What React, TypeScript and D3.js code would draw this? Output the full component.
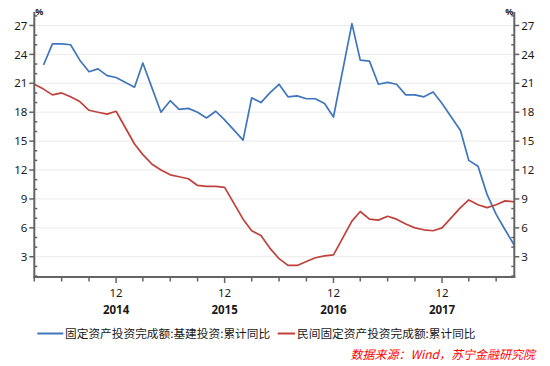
import React from "react";
import * as d3 from "d3";

// monthly observations (Chinese cumulative data: January merged into Jan-Feb)
const months: string[] = [
  "2014-03","2014-04","2014-05","2014-06","2014-07","2014-08","2014-09","2014-10","2014-11","2014-12",
  "2015-02","2015-03","2015-04","2015-05","2015-06","2015-07","2015-08","2015-09","2015-10","2015-11","2015-12",
  "2016-02","2016-03","2016-04","2016-05","2016-06","2016-07","2016-08","2016-09","2016-10","2016-11","2016-12",
  "2017-02","2017-03","2017-04","2017-05","2017-06","2017-07","2017-08","2017-09","2017-10","2017-11","2017-12",
  "2018-02","2018-03","2018-04","2018-05","2018-06","2018-07","2018-08",
];

const infraValues: (number | null)[] = [
  null, 22.9, 25.1, 25.1, 25.0, 23.4, 22.2, 22.5, 21.8, 21.6,
  20.6, 23.1, 20.5, 18.0, 19.2, 18.3, 18.4, 18.0, 17.4, 18.1, 17.2,
  15.1, 19.5, 19.0, 20.0, 20.9, 19.6, 19.7, 19.4, 19.4, 18.9, 17.5,
  27.2, 23.4, 23.3, 20.9, 21.1, 20.9, 19.8, 19.8, 19.6, 20.1, 18.9,
  16.1, 13.0, 12.4, 9.5, 7.4, 5.8, 4.2,
];

const privateValues: (number | null)[] = [
  20.9, 20.4, 19.8, 20.0, 19.6, 19.1, 18.2, 18.0, 17.8, 18.1,
  14.7, 13.6, 12.6, 12.0, 11.5, 11.3, 11.1, 10.4, 10.3, 10.3, 10.2,
  6.9, 5.7, 5.2, 3.9, 2.8, 2.1, 2.1, 2.5, 2.9, 3.1, 3.2,
  6.7, 7.7, 6.9, 6.8, 7.2, 6.9, 6.4, 6.0, 5.8, 5.7, 6.0,
  8.1, 8.9, 8.4, 8.1, 8.4, 8.8, 8.7,
];

const seriesNames: string[] = [
  "固定资产投资完成额:基建投资:累计同比",
  "民间固定资产投资完成额:累计同比",
];
const seriesColors: string[] = ["#3f76bc", "#c0413b"];

const yMajorTicks: number[] = [3, 6, 9, 12, 15, 18, 21, 24, 27];
const yMinorTicks: number[] = [1, 2, 4, 5, 7, 8, 10, 11, 13, 14, 16, 17, 19, 20, 22, 23, 25, 26, 28];
const xStart = "2014-03";
const xEnd = "2018-08";
const sourceText = "数据来源：Wind，苏宁金融研究院";
const unitLabel = "%";

const W = 550;
const H = 366;
const L = 34.3;
const R = 514.3;
const T = 12;
const B = 277;

const parse = (s: string) => {
  const [y, m] = s.split("-").map(Number);
  return new Date(Date.UTC(y, m - 1, 1));
};

export default function App() {
  const x = d3.scaleUtc().domain([parse(xStart), parse(xEnd)]).range([L, R]);
  const y = d3.scaleLinear().domain([0.9, 28.4]).range([B, T]);

  const dates = months.map(parse);
  const line = d3
    .line<number | null>()
    .defined((d) => d != null)
    .x((_, i) => x(dates[i]))
    .y((d) => y(d as number));

  const xTicks = d3.utcMonth.range(parse(xStart), d3.utcMonth.offset(parse(xEnd), 1), 3);

  const numFont = "'Noto Sans', 'DejaVu Sans', sans-serif";
  const cjkFont = "'Noto Sans CJK SC', 'Noto Sans', sans-serif";
  const axisColor = "#646464";

  return (
    <svg
      width={W}
      height={H}
      style={{ position: "fixed", left: 0, top: 0, background: "#fff" }}
    >
      <rect x={0} y={0} width={W} height={H} fill="#fff" />
      {/* gridlines */}
      {yMajorTicks.map((t) => (
        <line key={"g" + t} x1={L + 1} x2={R - 1} y1={y(t)} y2={y(t)} stroke="#ebebeb" strokeWidth={1} />
      ))}

      {/* series */}
      <path d={line(infraValues) || ""} fill="none" stroke={seriesColors[0]} strokeWidth={1.7} strokeLinejoin="round" />
      <path d={line(privateValues) || ""} fill="none" stroke={seriesColors[1]} strokeWidth={1.7} strokeLinejoin="round" />

      {/* axes */}
      <line x1={L} x2={L} y1={T} y2={B + 1} stroke={axisColor} strokeWidth={2} />
      <line x1={R} x2={R} y1={T} y2={B + 1} stroke={axisColor} strokeWidth={2} />
      <line x1={L - 1} x2={R + 1} y1={B} y2={B} stroke={axisColor} strokeWidth={2} />

      {/* left & right y ticks */}
      {yMajorTicks.map((t) => (
        <g key={"yt" + t}>
          <line x1={L - 5} x2={L} y1={y(t)} y2={y(t)} stroke={axisColor} strokeWidth={1.5} />
          <line x1={R} x2={R + 5} y1={y(t)} y2={y(t)} stroke={axisColor} strokeWidth={1.5} />
          <text x={L - 7} y={y(t)} dy="0.36em" textAnchor="end" fontFamily={numFont} fontSize={11.5} fill="#1a1a1a">
            {t}
          </text>
          <text x={R + 7} y={y(t)} dy="0.36em" textAnchor="start" fontFamily={numFont} fontSize={11.5} fill="#1a1a1a">
            {t}
          </text>
        </g>
      ))}
      {yMinorTicks.map((t) => (
        <g key={"ym" + t}>
          <line x1={L} x2={L + 3} y1={y(t)} y2={y(t)} stroke={axisColor} strokeWidth={1.5} />
          <line x1={R - 3} x2={R} y1={y(t)} y2={y(t)} stroke={axisColor} strokeWidth={1.5} />
        </g>
      ))}
      <text x={L + 1} y={T} dy="0.35em" fontFamily={numFont} fontSize={9} fontWeight="bold" fill="#1a1a1a">
        {unitLabel}
      </text>
      <text x={R - 1} y={T} dy="0.35em" textAnchor="end" fontFamily={numFont} fontSize={9} fontWeight="bold" fill="#1a1a1a">
        {unitLabel}
      </text>

      {/* x ticks */}
      {xTicks.map((d) => {
        const isDec = d.getUTCMonth() === 11;
        const px = x(d);
        return (
          <g key={"xt" + d.toISOString()}>
            <line x1={px} x2={px} y1={B} y2={B + (isDec ? 6 : 4.5)} stroke={axisColor} strokeWidth={1.5} />
            {isDec && (
              <>
                <text x={px} y={293} dy="0.36em" textAnchor="middle" fontFamily={numFont} fontSize={11.5} fill="#1a1a1a">
                  {String(d.getUTCMonth() + 1)}
                </text>
                <text x={px} y={310} dy="0.36em" textAnchor="middle" fontFamily={numFont} fontSize={11.5} fontWeight="bold" fill="#1a1a1a">
                  {String(d.getUTCFullYear())}
                </text>
              </>
            )}
          </g>
        );
      })}

      {/* legend */}
      <line x1={37.3} x2={63.3} y1={333.5} y2={333.5} stroke={seriesColors[0]} strokeWidth={2} />
      <text x={65} y={333.5} dy="0.36em" fontFamily={cjkFont} fontSize={11.7} fill="#1a1a1a">
        {seriesNames[0]}
      </text>
      <line x1={277.7} x2={295} y1={333.5} y2={333.5} stroke={seriesColors[1]} strokeWidth={2} />
      <text x={297} y={333.5} dy="0.36em" fontFamily={cjkFont} fontSize={11.7} fill="#1a1a1a">
        {seriesNames[1]}
      </text>

      {/* source */}
      <text x={535} y={355} dy="0.36em" textAnchor="end" fontFamily={cjkFont} fontSize={12} fontStyle="italic" fill="#ff0000">
        {sourceText}
      </text>
    </svg>
  );
}
